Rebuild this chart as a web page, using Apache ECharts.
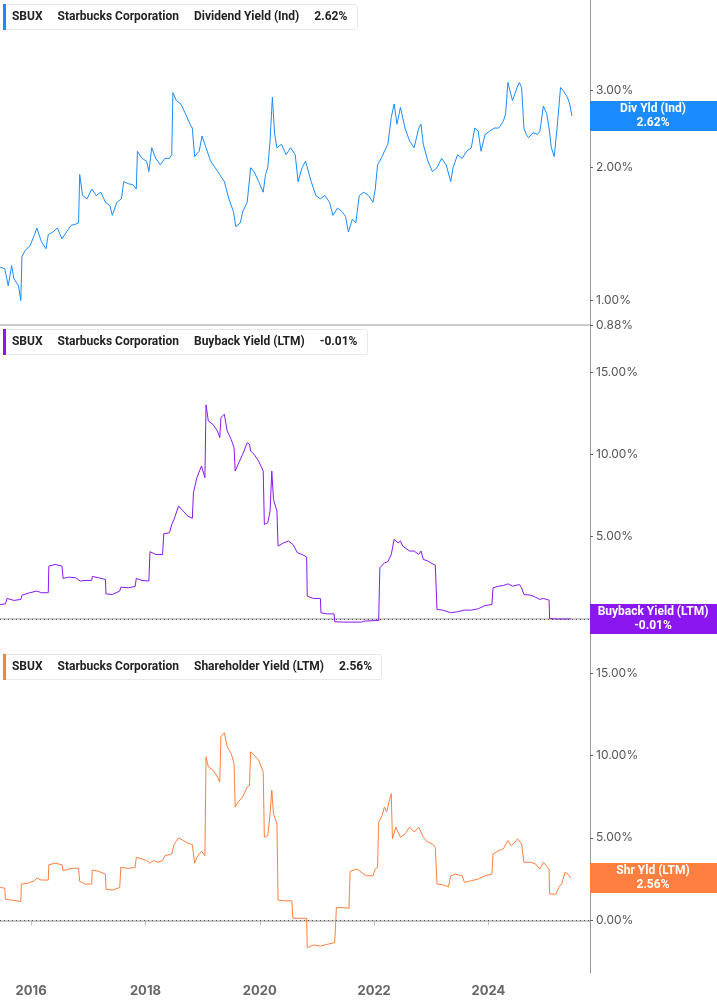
<!DOCTYPE html>
<html><head><meta charset="utf-8">
<script src="https://cdn.jsdelivr.net/npm/echarts@6/dist/echarts.min.js"></script>
<style>html,body{margin:0;padding:0;background:#fff}#c{width:717px;height:1005px}</style>
</head><body><div id="c"></div>
<script>
const yearTicks=[2016,2018,2020,2022,2024];
const divDates=[2015.46,2015.54,2015.60,2015.66,2015.70,2015.78,2015.82,2015.84,2015.90,2015.98,2016.06,2016.10,2016.18,2016.26,2016.30,2016.38,2016.46,2016.54,2016.62,2016.70,2016.78,2016.83,2016.85,2016.90,2016.98,2017.06,2017.14,2017.22,2017.30,2017.38,2017.42,2017.50,2017.58,2017.62,2017.70,2017.78,2017.84,2017.86,2017.94,2018.02,2018.06,2018.11,2018.18,2018.26,2018.34,2018.42,2018.46,2018.48,2018.54,2018.62,2018.70,2018.78,2018.82,2018.86,2018.94,2018.99,2019.06,2019.14,2019.22,2019.30,2019.38,2019.46,2019.54,2019.58,2019.66,2019.70,2019.78,2019.84,2019.90,2019.98,2020.06,2020.10,2020.14,2020.18,2020.22,2020.26,2020.30,2020.38,2020.46,2020.54,2020.62,2020.67,2020.74,2020.80,2020.90,2020.98,2021.06,2021.14,2021.22,2021.28,2021.36,2021.44,2021.50,2021.55,2021.62,2021.68,2021.74,2021.82,2021.90,2021.98,2022.02,2022.06,2022.14,2022.18,2022.24,2022.30,2022.35,2022.40,2022.46,2022.54,2022.62,2022.70,2022.78,2022.82,2022.86,2022.94,2023.02,2023.10,2023.18,2023.26,2023.34,2023.38,2023.46,2023.54,2023.62,2023.70,2023.76,2023.82,2023.87,2023.94,2024.02,2024.10,2024.18,2024.26,2024.30,2024.34,2024.42,2024.50,2024.54,2024.58,2024.62,2024.66,2024.70,2024.78,2024.86,2024.90,2024.96,2025.02,2025.06,2025.10,2025.15,2025.20,2025.26,2025.31,2025.38,2025.42,2025.46];
const divValues=[1.19,1.18,1.08,1.20,1.12,1.08,1.00,1.26,1.30,1.33,1.41,1.46,1.36,1.31,1.41,1.43,1.46,1.38,1.43,1.48,1.49,1.50,1.93,1.73,1.70,1.79,1.73,1.76,1.67,1.64,1.56,1.67,1.70,1.86,1.84,1.83,1.79,2.18,2.10,2.07,1.96,2.22,2.10,2.03,2.10,2.10,2.14,2.96,2.84,2.79,2.65,2.51,2.46,2.12,2.18,2.36,2.22,2.07,2.00,1.93,1.86,1.70,1.59,1.47,1.50,1.59,1.67,2.00,1.96,1.86,1.76,1.93,2.00,2.30,2.89,2.38,2.22,2.26,2.14,2.22,2.14,1.86,2.00,2.07,1.86,1.73,1.70,1.73,1.67,1.56,1.62,1.59,1.55,1.43,1.53,1.50,1.73,1.76,1.73,1.67,1.79,2.03,2.12,2.18,2.26,2.60,2.79,2.51,2.74,2.46,2.30,2.22,2.46,2.51,2.26,2.07,1.96,2.00,2.10,2.03,1.86,2.00,2.14,2.10,2.18,2.22,2.46,2.42,2.18,2.38,2.42,2.46,2.46,2.55,2.65,3.12,2.84,3.04,3.12,3.04,2.46,2.38,2.34,2.40,2.38,2.42,2.76,2.65,2.46,2.22,2.12,2.46,3.04,2.99,2.89,2.79,2.62];
const bbDates=[2015.46,2015.55,2015.58,2015.70,2015.82,2015.84,2015.98,2016.10,2016.18,2016.30,2016.31,2016.42,2016.54,2016.56,2016.66,2016.78,2016.86,2016.94,2017.06,2017.07,2017.18,2017.30,2017.31,2017.42,2017.55,2017.57,2017.70,2017.82,2017.84,2017.94,2018.06,2018.08,2018.18,2018.30,2018.32,2018.42,2018.46,2018.50,2018.58,2018.66,2018.74,2018.82,2018.84,2018.90,2018.98,2019.04,2019.06,2019.10,2019.18,2019.26,2019.30,2019.32,2019.38,2019.39,2019.43,2019.50,2019.55,2019.57,2019.62,2019.70,2019.78,2019.82,2019.84,2019.90,2019.98,2020.06,2020.08,2020.14,2020.18,2020.21,2020.24,2020.30,2020.32,2020.42,2020.50,2020.58,2020.66,2020.74,2020.82,2020.83,2020.94,2021.06,2021.07,2021.18,2021.30,2021.31,2021.46,2021.56,2021.78,2021.82,2022.08,2022.10,2022.18,2022.24,2022.30,2022.35,2022.42,2022.46,2022.50,2022.62,2022.70,2022.78,2022.82,2022.86,2022.94,2023.02,2023.07,2023.10,2023.20,2023.34,2023.46,2023.58,2023.70,2023.82,2023.94,2024.06,2024.08,2024.18,2024.26,2024.34,2024.42,2024.54,2024.58,2024.62,2024.74,2024.82,2024.90,2024.96,2025.06,2025.07,2025.18,2025.44];
const bbValues=[0.87,0.91,1.24,1.12,1.18,1.44,1.59,1.69,1.59,1.59,3.21,3.31,3.21,2.46,2.54,2.50,2.30,2.34,2.34,2.58,2.50,2.40,1.52,1.48,1.69,1.93,1.89,1.97,2.46,2.34,2.30,4.09,3.92,3.92,5.18,5.24,5.75,6.06,6.87,6.57,6.26,6.12,7.68,8.60,9.31,8.60,13.03,12.05,11.85,11.44,11.04,12.26,12.46,12.56,11.44,10.93,10.43,9.00,9.41,10.02,10.73,10.63,10.22,10.02,9.61,9.00,5.75,5.85,6.57,9.00,7.27,6.57,4.43,4.63,4.74,4.53,4.02,3.92,3.76,1.38,1.24,1.24,0.37,0.30,0.30,-0.18,-0.20,-0.20,-0.20,-0.14,-0.10,3.11,3.41,3.48,3.92,4.84,4.63,4.74,4.43,4.13,4.13,3.92,4.13,3.62,3.52,3.35,3.27,0.57,0.53,0.37,0.43,0.53,0.53,0.61,0.81,0.87,1.89,1.99,2.03,2.13,1.99,2.09,1.89,1.48,1.44,1.32,1.18,1.24,1.14,0.02,-0.01,-0.01];
const shDates=[2015.46,2015.54,2015.55,2015.66,2015.82,2015.83,2015.94,2016.06,2016.10,2016.18,2016.30,2016.31,2016.42,2016.54,2016.56,2016.66,2016.78,2016.83,2016.85,2016.94,2017.06,2017.07,2017.18,2017.30,2017.31,2017.42,2017.55,2017.57,2017.70,2017.82,2017.84,2017.94,2018.02,2018.08,2018.14,2018.22,2018.30,2018.34,2018.46,2018.50,2018.58,2018.66,2018.74,2018.82,2018.86,2018.90,2018.98,2019.04,2019.06,2019.10,2019.18,2019.26,2019.30,2019.32,2019.38,2019.39,2019.43,2019.50,2019.55,2019.57,2019.62,2019.70,2019.78,2019.82,2019.84,2019.90,2019.98,2020.06,2020.08,2020.14,2020.18,2020.21,2020.24,2020.30,2020.32,2020.42,2020.56,2020.58,2020.82,2020.83,2020.94,2021.06,2021.18,2021.31,2021.34,2021.46,2021.56,2021.58,2021.70,2021.86,2021.98,2022.02,2022.06,2022.08,2022.14,2022.18,2022.22,2022.26,2022.30,2022.32,2022.38,2022.46,2022.54,2022.62,2022.70,2022.78,2022.82,2022.86,2022.94,2023.02,2023.07,2023.10,2023.20,2023.30,2023.34,2023.42,2023.54,2023.58,2023.70,2023.82,2023.94,2024.06,2024.08,2024.18,2024.26,2024.34,2024.40,2024.46,2024.51,2024.58,2024.62,2024.74,2024.82,2024.90,2024.96,2025.06,2025.07,2025.18,2025.23,2025.28,2025.34,2025.39,2025.44];
const shValues=[1.99,1.95,1.28,1.22,1.14,2.20,2.24,2.40,2.56,2.44,2.44,3.37,3.46,3.37,3.01,3.11,3.17,3.15,2.36,2.20,2.20,3.05,2.97,2.80,1.89,1.83,1.99,3.21,3.15,3.21,3.82,3.72,3.62,3.46,3.62,3.52,3.62,3.92,4.02,4.59,5.00,4.84,4.67,4.59,3.46,3.82,4.19,3.92,9.92,9.31,9.11,8.70,8.39,11.14,11.38,11.44,10.53,10.12,9.51,6.87,7.17,7.48,8.09,8.19,10.22,10.02,9.72,9.00,5.04,5.14,6.46,7.89,6.46,5.85,1.22,1.18,1.18,0.12,0.12,-1.67,-1.50,-1.57,-1.46,-1.36,0.77,0.77,0.73,2.97,3.11,2.70,2.70,3.11,3.21,5.96,6.36,6.87,6.57,7.17,7.68,4.94,5.65,5.04,5.24,5.65,5.35,5.65,5.35,5.04,4.74,4.63,4.43,2.20,2.15,2.03,2.70,2.80,2.70,2.30,2.40,2.50,2.70,2.80,4.02,4.23,4.33,4.84,4.53,4.74,4.94,4.63,3.52,3.52,3.42,3.11,3.52,3.11,1.59,1.59,2.00,2.20,2.91,2.80,2.56];

const pair=(d,v)=>d.map((x,i)=>[x,v[i]]);
const C1='#1a8cff',C2='#8a17f0',C3='#ff7f40';
const XMIN=2015.456,XMAX=2025.776;
const grids=[{left:0,right:127,top:0,height:325},{left:0,right:127,top:325,height:325},{left:0,right:127,top:650,height:323}];
function xAx(i,lab){return {type:'value',gridIndex:i,min:XMIN,max:XMAX,splitLine:{show:false},
 axisLine:{show:true,lineStyle:{color:'#bbb',width:1.5}},
 axisTick:{show:lab,length:5,lineStyle:{color:'#bbb'},customValues:yearTicks},
 axisLabel:{show:lab,customValues:yearTicks,color:'#666',fontSize:13,fontWeight:'bold',fontFamily:'Inter',margin:12,formatter:v=>String(v)}};}
function yAx(i,o){return Object.assign({gridIndex:i,position:'right',splitLine:{show:false},
 axisLine:{show:true,lineStyle:{color:'#999'}},axisTick:{show:true,length:3,lineStyle:{color:'#666'}},
 axisLabel:{color:'#555',fontSize:12,fontFamily:'Inter',margin:6,formatter:v=>v.toFixed(2)+'%'}},o);}
function title(i,top,col,name,val){return {left:3,top:top,padding:[0,10,0,0],backgroundColor:'#fff',borderColor:'#e8e8e8',borderWidth:1,borderRadius:2,
 text:'{bar|}{b|  SBUX}   {b|Starbucks Corporation}   {n|'+name+'}   {b|'+val+'}',
 textStyle:{rich:{bar:{width:3,height:26,backgroundColor:col},b:{fontFamily:'Roboto',fontSize:12,fontWeight:'bold',color:'#222'},n:{fontFamily:'Roboto',fontSize:12,color:'#222'}}}};}
function ser(i,data,col,zero){const s={type:'line',xAxisIndex:i,yAxisIndex:i,data:data,showSymbol:false,symbol:'none',lineStyle:{color:col,width:1},animation:false};
 if(zero)s.markLine={silent:true,symbol:'none',label:{show:false},lineStyle:{color:'#555',type:[1,3],width:1},data:[{yAxis:0}]};return s;}
const chart=echarts.init(document.getElementById('c'));
chart.setOption({animation:false,grid:grids,
 title:[title(0,4,C1,'Dividend Yield (Ind)','2.62%'),title(1,329,C2,'Buyback Yield (LTM)','-0.01%'),title(2,654,C3,'Shareholder Yield (LTM)','2.56%')],
 xAxis:[xAx(0,false),xAx(1,false),xAx(2,true)],
 yAxis:[yAx(0,{type:'log',min:0.88,max:4.8,axisLabel:{color:'#555',fontSize:12,fontFamily:'Inter',margin:6,customValues:[0.88,1,2,3],formatter:v=>v.toFixed(2)+'%'},axisTick:{show:true,length:3,customValues:[0.88,1,2,3],lineStyle:{color:'#666'}}}),
        yAx(1,{type:'value',min:-1.9,max:17.9,axisLabel:{color:'#555',fontSize:12,fontFamily:'Inter',margin:6,customValues:[0,5,10,15],formatter:v=>v.toFixed(2)+'%'},axisTick:{show:true,length:3,customValues:[0,5,10,15],lineStyle:{color:'#666'}}}),
        yAx(2,{type:'value',min:-3.2,max:16.4,axisLabel:{color:'#555',fontSize:12,fontFamily:'Inter',margin:6,customValues:[0,5,10,15],formatter:v=>v.toFixed(2)+'%'},axisTick:{show:true,length:3,customValues:[0,5,10,15],lineStyle:{color:'#666'}}})],
 series:[ser(0,pair(divDates,divValues),C1,false),ser(1,pair(bbDates,bbValues),C2,true),ser(2,pair(shDates,shValues),C3,true)]});
const boxes=[[0,divValues,C1,'Div Yld (Ind)','2.62%'],[1,bbValues,C2,'Buyback Yield (LTM)','-0.01%'],[2,shValues,C3,'Shr Yld (LTM)','2.56%']];
const g=[];
boxes.forEach(([i,vals,col,a,b])=>{const y=chart.convertToPixel({yAxisIndex:i},vals[vals.length-1]);
 g.push({type:'rect',shape:{x:590,y:y-15,width:127,height:30},style:{fill:col},z:10});
 g.push({type:'text',x:653,y:y,style:{text:a+'\n'+b,fill:'#fff',font:'bold 12px Roboto',align:'center',verticalAlign:'middle',lineHeight:14},z:11});});
chart.setOption({graphic:g});
</script></body></html>
